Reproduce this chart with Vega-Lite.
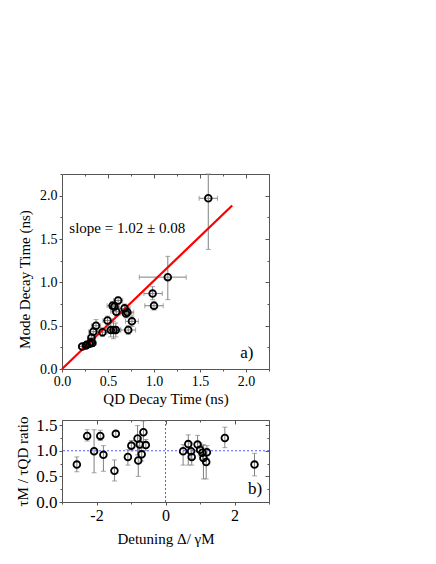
{
  "$schema": "https://vega.github.io/schema/vega-lite/v6.json",
  "padding": {"top": 166, "left": 15, "right": 5, "bottom": 5},
  "spacing": 8,
  "datasets": {
    "tauA": [
      {"x": 1.59, "y": 1.97, "xlo": 1.49, "xhi": 1.69, "ylo": 1.38, "yhi": 2.25},
      {"x": 1.15, "y": 1.06, "xlo": 0.84, "xhi": 1.35, "ylo": 0.80, "yhi": 1.30},
      {"x": 0.985, "y": 0.87, "xlo": 0.89, "xhi": 1.09, "ylo": 0.80, "yhi": 0.95},
      {"x": 1.0, "y": 0.73, "xlo": 0.90, "xhi": 1.10, "ylo": 0.68, "yhi": 0.78},
      {"x": 0.61, "y": 0.79, "xlo": 0.56, "xhi": 0.66, "ylo": 0.75, "yhi": 0.83},
      {"x": 0.55, "y": 0.73, "xlo": 0.49, "xhi": 0.61, "ylo": 0.68, "yhi": 0.78},
      {"x": 0.57, "y": 0.72, "xlo": 0.52, "xhi": 0.62, "ylo": 0.67, "yhi": 0.77},
      {"x": 0.59, "y": 0.66, "xlo": 0.53, "xhi": 0.65, "ylo": 0.61, "yhi": 0.71},
      {"x": 0.68, "y": 0.70, "xlo": 0.62, "xhi": 0.74, "ylo": 0.65, "yhi": 0.75},
      {"x": 0.695, "y": 0.64, "xlo": 0.63, "xhi": 0.76, "ylo": 0.59, "yhi": 0.69},
      {"x": 0.71, "y": 0.655, "xlo": 0.64, "xhi": 0.78, "ylo": 0.60, "yhi": 0.71},
      {"x": 0.76, "y": 0.55, "xlo": 0.69, "xhi": 0.83, "ylo": 0.49, "yhi": 0.61},
      {"x": 0.72, "y": 0.45, "xlo": 0.64, "xhi": 0.80, "ylo": 0.40, "yhi": 0.50},
      {"x": 0.495, "y": 0.56, "xlo": 0.445, "xhi": 0.545, "ylo": 0.51, "yhi": 0.61},
      {"x": 0.37, "y": 0.50, "xlo": 0.32, "xhi": 0.42, "ylo": 0.43, "yhi": 0.57},
      {"x": 0.34, "y": 0.43, "xlo": 0.29, "xhi": 0.39, "ylo": 0.38, "yhi": 0.48},
      {"x": 0.44, "y": 0.425, "xlo": 0.39, "xhi": 0.49, "ylo": 0.375, "yhi": 0.475},
      {"x": 0.53, "y": 0.45, "xlo": 0.48, "xhi": 0.58, "ylo": 0.37, "yhi": 0.53},
      {"x": 0.56, "y": 0.45, "xlo": 0.51, "xhi": 0.61, "ylo": 0.35, "yhi": 0.55},
      {"x": 0.585, "y": 0.45, "xlo": 0.535, "xhi": 0.635, "ylo": 0.37, "yhi": 0.53},
      {"x": 0.32, "y": 0.36, "xlo": 0.28, "xhi": 0.36, "ylo": 0.31, "yhi": 0.41},
      {"x": 0.315, "y": 0.31, "xlo": 0.275, "xhi": 0.355, "ylo": 0.27, "yhi": 0.35},
      {"x": 0.33, "y": 0.30, "xlo": 0.29, "xhi": 0.37, "ylo": 0.26, "yhi": 0.34},
      {"x": 0.27, "y": 0.28, "xlo": 0.23, "xhi": 0.31, "ylo": 0.24, "yhi": 0.32},
      {"x": 0.22, "y": 0.26, "xlo": 0.18, "xhi": 0.26, "ylo": 0.23, "yhi": 0.29},
      {"x": 0.26, "y": 0.27, "xlo": 0.22, "xhi": 0.30, "ylo": 0.24, "yhi": 0.30},
      {"x": 0.30, "y": 0.29, "xlo": 0.27, "xhi": 0.33, "ylo": 0.26, "yhi": 0.32}
    ],
    "fit": [
      {"x": 0, "y": 0},
      {"x": 1.85, "y": 1.887}
    ],
    "ratio": [
      {"d": -2.57, "r": 0.73, "rlo": 0.59, "rhi": 0.88},
      {"d": -2.27, "r": 1.29, "rlo": 1.19, "rhi": 1.41},
      {"d": -2.07, "r": 0.99, "rlo": 0.57, "rhi": 1.41},
      {"d": -1.89, "r": 1.29, "rlo": 1.20, "rhi": 1.40},
      {"d": -1.80, "r": 0.92, "rlo": 0.60, "rhi": 1.10},
      {"d": -1.44, "r": 1.33, "rlo": 1.28, "rhi": 1.38},
      {"d": -1.48, "r": 0.61, "rlo": 0.41, "rhi": 0.82},
      {"d": -1.09, "r": 0.88, "rlo": 0.72, "rhi": 1.02},
      {"d": -0.99, "r": 1.10, "rlo": 1.00, "rhi": 1.20},
      {"d": -0.81, "r": 1.24, "rlo": 0.92, "rhi": 1.49},
      {"d": -0.75, "r": 1.12, "rlo": 1.00, "rhi": 1.25},
      {"d": -0.64, "r": 1.36, "rlo": 1.18, "rhi": 1.58},
      {"d": -0.57, "r": 1.11, "rlo": 1.00, "rhi": 1.22},
      {"d": -0.69, "r": 0.93, "rlo": 0.80, "rhi": 1.05},
      {"d": -0.79, "r": 0.81, "rlo": 0.50, "rhi": 1.10},
      {"d": 0.51, "r": 0.99, "rlo": 0.72, "rhi": 1.12},
      {"d": 0.66, "r": 1.13, "rlo": 0.72, "rhi": 1.31},
      {"d": 0.74, "r": 0.99, "rlo": 0.85, "rhi": 1.15},
      {"d": 0.76, "r": 0.88, "rlo": 0.72, "rhi": 1.02},
      {"d": 0.93, "r": 1.12, "rlo": 0.98, "rhi": 1.30},
      {"d": 1.00, "r": 1.02, "rlo": 0.90, "rhi": 1.15},
      {"d": 1.07, "r": 0.96, "rlo": 0.80, "rhi": 1.10},
      {"d": 1.10, "r": 0.86, "rlo": 0.45, "rhi": 1.12},
      {"d": 1.20, "r": 0.97, "rlo": 0.85, "rhi": 1.10},
      {"d": 1.18, "r": 0.78, "rlo": 0.45, "rhi": 1.05},
      {"d": 1.72, "r": 1.25, "rlo": 1.06, "rhi": 1.46},
      {"d": 2.58, "r": 0.73, "rlo": 0.51, "rhi": 0.95}
    ]
  },
  "vconcat": [
    {
      "width": 207,
      "height": 195,
      "resolve": {"axis": {"x": "independent", "y": "independent"}},
      "layer": [
        {
          "data": {"name": "tauA"},
          "mark": {"type": "errorbar", "ticks": true, "size": 5, "thickness": 1, "color": "#808080"},
          "encoding": {
            "x": {"field": "xlo", "type": "quantitative", "scale": {"domain": [0, 2.25], "nice": false}, "axis": null},
            "x2": {"field": "xhi"},
            "y": {"field": "y", "type": "quantitative", "scale": {"domain": [0, 2.25], "nice": false}, "axis": null}
          }
        },
        {
          "data": {"name": "tauA"},
          "mark": {"type": "errorbar", "ticks": true, "size": 5, "thickness": 1, "color": "#808080"},
          "encoding": {
            "x": {"field": "x", "type": "quantitative", "scale": {"domain": [0, 2.25], "nice": false}, "axis": null},
            "y": {"field": "ylo", "type": "quantitative", "scale": {"domain": [0, 2.25], "nice": false}, "axis": null},
            "y2": {"field": "yhi"}
          }
        },
        {
          "data": {"name": "fit"},
          "mark": {"type": "line", "color": "#ff0000", "strokeWidth": 2.2},
          "encoding": {
            "x": {"field": "x", "type": "quantitative", "scale": {"domain": [0, 2.25], "nice": false}, "axis": null},
            "y": {"field": "y", "type": "quantitative", "scale": {"domain": [0, 2.25], "nice": false}, "axis": null}
          }
        },
        {
          "data": {"name": "tauA"},
          "mark": {"type": "point", "shape": "circle", "size": 45, "strokeWidth": 1.8, "color": "black", "filled": false, "opacity": 1},
          "encoding": {
            "x": {"field": "x", "type": "quantitative", "scale": {"domain": [0, 2.25], "nice": false},
              "axis": {"title": "QD Decay Time (ns)", "orient": "bottom", "values": [0, 0.25, 0.5, 0.75, 1, 1.25, 1.5, 1.75, 2, 2.25],
                "labelExpr": "datum.value % 0.5 == 0 ? format(datum.value, '.1f') : ''",
                "tickSize": {"condition": {"test": "datum.value % 0.5 != 0", "value": 2}, "value": 3}}},
            "y": {"field": "y", "type": "quantitative", "scale": {"domain": [0, 2.25], "nice": false},
              "axis": {"title": "Mode Decay Time (ns)", "orient": "left", "titleY": 105, "titlePadding": 7, "values": [0, 0.25, 0.5, 0.75, 1, 1.25, 1.5, 1.75, 2, 2.25],
                "labelExpr": "datum.value % 0.5 == 0 ? format(datum.value, '.1f') : ''",
                "tickSize": {"condition": {"test": "datum.value % 0.5 != 0", "value": 2}, "value": 3}}}
          }
        },
        {
          "data": {"name": "tauA"},
          "mark": {"type": "point", "opacity": 0},
          "encoding": {
            "x": {"field": "x", "type": "quantitative", "scale": {"domain": [0, 2.25], "nice": false},
              "axis": {"title": null, "orient": "top", "labels": false, "values": [0, 0.25, 0.5, 0.75, 1, 1.25, 1.5, 1.75, 2, 2.25],
                "tickSize": {"condition": {"test": "datum.value % 0.5 != 0", "value": -2}, "value": -4}}},
            "y": {"field": "y", "type": "quantitative", "scale": {"domain": [0, 2.25], "nice": false},
              "axis": {"title": null, "orient": "right", "labels": false, "values": [0, 0.25, 0.5, 0.75, 1, 1.25, 1.5, 1.75, 2, 2.25],
                "tickSize": {"condition": {"test": "datum.value % 0.5 != 0", "value": -2}, "value": -4}}}
          }
        },
        {
          "data": {"values": [{}]},
          "mark": {"type": "text", "text": "slope = 1.02 ± 0.08", "align": "left", "baseline": "middle", "fontSize": 15, "font": "Liberation Serif", "color": "black"},
          "encoding": {
            "x": {"datum": 0.08, "type": "quantitative", "axis": null},
            "y": {"datum": 1.63, "type": "quantitative", "axis": null}
          }
        },
        {
          "data": {"values": [{}]},
          "mark": {"type": "text", "text": "a)", "align": "right", "baseline": "middle", "fontSize": 17, "font": "Liberation Serif", "color": "black"},
          "encoding": {
            "x": {"datum": 2.08, "type": "quantitative", "axis": null},
            "y": {"datum": 0.18, "type": "quantitative", "axis": null}
          }
        }
      ]
    },
    {
      "width": 207,
      "height": 82,
      "resolve": {"axis": {"x": "independent", "y": "independent"}},
      "layer": [
        {
          "data": {"values": [{}]},
          "mark": {"type": "rule", "color": "#5a5aff", "strokeDash": [2, 2], "strokeWidth": 1},
          "encoding": {
            "y": {"datum": 1, "type": "quantitative", "scale": {"domain": [0, 1.6], "nice": false}, "axis": null}
          }
        },
        {
          "data": {"values": [{}]},
          "mark": {"type": "rule", "color": "#5a5aff", "strokeDash": [2, 2], "strokeWidth": 1},
          "encoding": {
            "x": {"datum": 0, "type": "quantitative", "scale": {"domain": [-3, 3], "nice": false}, "axis": null}
          }
        },
        {
          "data": {"name": "ratio"},
          "mark": {"type": "errorbar", "ticks": true, "size": 5, "thickness": 1, "color": "#808080"},
          "encoding": {
            "x": {"field": "d", "type": "quantitative", "scale": {"domain": [-3, 3], "nice": false}, "axis": null},
            "y": {"field": "rlo", "type": "quantitative", "scale": {"domain": [0, 1.6], "nice": false}, "axis": null},
            "y2": {"field": "rhi"}
          }
        },
        {
          "data": {"name": "ratio"},
          "mark": {"type": "point", "shape": "circle", "size": 45, "strokeWidth": 1.8, "color": "black", "filled": false, "opacity": 1},
          "encoding": {
            "x": {"field": "d", "type": "quantitative", "scale": {"domain": [-3, 3], "nice": false},
              "axis": {"title": "Detuning Δ/ γM", "orient": "bottom", "labelFontSize": 16, "titlePadding": 8, "values": [-3, -2, -1, 0, 1, 2, 3],
                "labelExpr": "datum.value % 2 == 0 ? '' + datum.value : ''",
                "tickSize": {"condition": {"test": "datum.value % 2 != 0", "value": 2}, "value": 3}}},
            "y": {"field": "r", "type": "quantitative", "scale": {"domain": [0, 1.6], "nice": false},
              "axis": {"title": "τM / τQD ratio", "orient": "left", "labelFontSize": 17, "titlePadding": 5, "values": [0, 0.25, 0.5, 0.75, 1, 1.25, 1.5],
                "labelExpr": "datum.value % 0.5 == 0 ? format(datum.value, '.1f') : ''",
                "tickSize": {"condition": {"test": "datum.value % 0.5 != 0", "value": 2}, "value": 3}}}
          }
        },
        {
          "data": {"name": "ratio"},
          "mark": {"type": "point", "opacity": 0},
          "encoding": {
            "x": {"field": "d", "type": "quantitative", "scale": {"domain": [-3, 3], "nice": false},
              "axis": {"title": null, "orient": "top", "labels": false, "values": [-3, -2, -1, 0, 1, 2, 3],
                "tickSize": {"condition": {"test": "datum.value % 2 != 0", "value": -2}, "value": -4}}},
            "y": {"field": "r", "type": "quantitative", "scale": {"domain": [0, 1.6], "nice": false},
              "axis": {"title": null, "orient": "right", "labels": false, "values": [0, 0.25, 0.5, 0.75, 1, 1.25, 1.5],
                "tickSize": {"condition": {"test": "datum.value % 0.5 != 0", "value": -2}, "value": -4}}}
          }
        },
        {
          "data": {"values": [{}]},
          "mark": {"type": "text", "text": "b)", "align": "right", "baseline": "middle", "fontSize": 17, "font": "Liberation Serif", "color": "black"},
          "encoding": {
            "x": {"datum": 2.8, "type": "quantitative", "axis": null},
            "y": {"datum": 0.25, "type": "quantitative", "axis": null}
          }
        }
      ]
    }
  ],
  "config": {
    "font": "Liberation Serif",
    "view": {"stroke": "#555555", "strokeWidth": 1},
    "axis": {
      "labelFont": "Liberation Serif",
      "titleFont": "Liberation Serif",
      "labelFontSize": 14,
      "titleFontSize": 15,
      "titleFontWeight": "normal",
      "labelColor": "black",
      "titleColor": "black",
      "domain": false,
      "grid": false,
      "tickColor": "#555555",
      "labelPadding": 2,
      "titlePadding": 3,
      "labelFlush": false,
      "labelOverlap": false
    }
  }
}
